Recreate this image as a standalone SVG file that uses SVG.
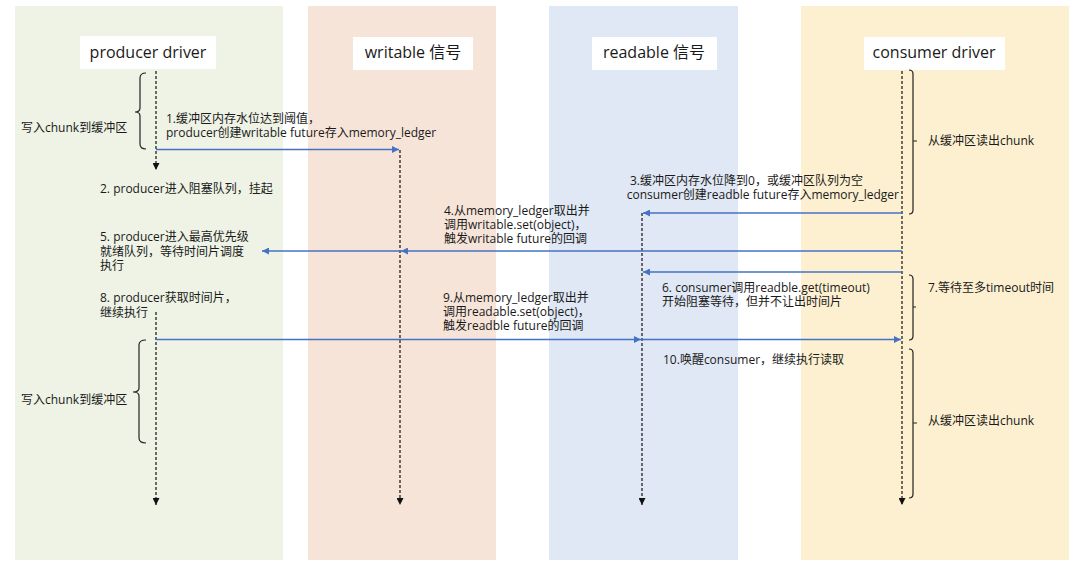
<svg xmlns="http://www.w3.org/2000/svg" width="1080" height="572" viewBox="0 0 1080 572">
<style>
text{font-family:"Open Sans","Noto Sans CJK SC",sans-serif;fill:#1a1a1a;font-size:12px}
.title{font-size:16px;text-anchor:middle}
.tbox{fill:#ffffff}
.life{stroke:#111;stroke-width:1.2;stroke-dasharray:3,2;fill:none}
.msg{stroke:#4472C4;stroke-width:1.3;fill:none}
.brace{stroke:#222;stroke-width:1.2;fill:none}
</style>
<defs>
<marker id="ab" viewBox="0 0 10 10" refX="10" refY="5" markerWidth="8" markerHeight="7" markerUnits="userSpaceOnUse" orient="auto"><path d="M0,0 L10,5 L0,10 z" fill="#4472C4"/></marker>
<marker id="ak" viewBox="0 0 10 10" refX="10" refY="5" markerWidth="8" markerHeight="7" markerUnits="userSpaceOnUse" orient="auto"><path d="M0,0 L10,5 L0,10 z" fill="#111"/></marker>
</defs>
<rect width="1080" height="572" fill="#ffffff"/>

<g id="lane-producer">
<rect x="15" y="6" width="268" height="554" fill="#EEF3E6"/>
<rect class="tbox" x="80" y="36" width="136" height="33"/>
<text class="title" x="148" y="58">producer driver</text>
</g>
<g id="lane-writable">
<rect x="308" y="6" width="188" height="554" fill="#F7E4D8"/>
<rect class="tbox" x="353" y="37" width="120" height="33"/>
<text class="title" x="413" y="58">writable 信号</text>
</g>
<g id="lane-readable">
<rect x="549" y="6" width="189" height="554" fill="#DFE8F4"/>
<rect class="tbox" x="592" y="37" width="125" height="33"/>
<text class="title" x="654" y="58">readable 信号</text>
</g>
<g id="lane-consumer">
<rect x="801" y="6" width="268" height="554" fill="#FCF0D0"/>
<rect class="tbox" x="864" y="37" width="141" height="33"/>
<text class="title" x="934" y="58">consumer driver</text>
</g>

<g id="connectors">
<line class="life" x1="156" y1="71" x2="156" y2="170" marker-end="url(#ak)"/>
<line class="life" x1="156" y1="312" x2="156" y2="505" marker-end="url(#ak)"/>
<line class="life" x1="400" y1="150" x2="400" y2="505" marker-end="url(#ak)"/>
<line class="life" x1="642" y1="213" x2="642" y2="505" marker-end="url(#ak)"/>
<line class="life" x1="902" y1="71" x2="902" y2="505" marker-end="url(#ak)"/>

<line class="msg" x1="156" y1="149.5" x2="399" y2="149.5" marker-end="url(#ab)"/>
<line class="msg" x1="902" y1="213" x2="643" y2="213" marker-end="url(#ab)"/>
<line class="msg" x1="902" y1="251" x2="401" y2="251" marker-end="url(#ab)"/>
<line class="msg" x1="401" y1="251" x2="262" y2="251" marker-end="url(#ab)"/>
<line class="msg" x1="902" y1="272" x2="643" y2="272" marker-end="url(#ab)"/>
<line class="msg" x1="156" y1="339.5" x2="641" y2="339.5" marker-end="url(#ab)"/>
<line class="msg" x1="641" y1="339.5" x2="901" y2="339.5" marker-end="url(#ab)"/>
</g>

<g id="braces">
<path class="brace" d="M146,73 Q140,73 140,78 V108 Q140,112 135,112 Q140,112 140,116 V144 Q140,149 146,149"/>
<path class="brace" d="M146,340 Q139,340 139,345 V388 Q139,392 133,392 Q139,392 139,396 V438 Q139,443 146,443"/>
<path class="brace" d="M909,70 Q913,70 913,74 V141 H917 M913,141 V210 Q913,214 909,214"/>
<path class="brace" d="M909,275 Q913,275 913,279 V307 H916 M913,307 V336 Q913,340 909,340"/>
<path class="brace" d="M909,349 Q913,349 913,353 V423 H917 M913,423 V494 Q913,498 909,498"/>
</g>

<g id="labels">
<text x="21" y="132">写入chunk到缓冲区</text>
<text x="21" y="404">写入chunk到缓冲区</text>
<text x="928" y="145">从缓冲区读出chunk</text>
<text x="928" y="425">从缓冲区读出chunk</text>
<text x="928" y="292">7.等待至多timeout时间</text>

<text x="166" y="123">1.缓冲区内存水位达到阈值，</text>
<text x="166" y="137">producer创建writable future存入memory_ledger</text>

<text x="100" y="193">2. producer进入阻塞队列，挂起</text>

<text x="630" y="185">3.缓冲区内存水位降到0，或缓冲区队列为空</text>
<text x="899" y="199" text-anchor="end">consumer创建readble future存入memory_ledger</text>

<text x="444" y="214.5">4.从memory_ledger取出并</text>
<text x="444" y="228.5">调用writable.set(object)，</text>
<text x="444" y="242.5">触发writable future的回调</text>

<text x="100" y="241">5. producer进入最高优先级</text>
<text x="100" y="255.5">就绪队列，等待时间片调度</text>
<text x="100" y="270">执行</text>

<text x="662" y="292">6. consumer调用readble.get(timeout)</text>
<text x="662" y="306">开始阻塞等待，但并不让出时间片</text>

<text x="100" y="302">8. producer获取时间片，</text>
<text x="100" y="317">继续执行</text>

<text x="443" y="302">9.从memory_ledger取出并</text>
<text x="443" y="316">调用readable.set(object)，</text>
<text x="443" y="330">触发readble future的回调</text>

<text x="663" y="364">10.唤醒consumer，继续执行读取</text>
</g>
</svg>
